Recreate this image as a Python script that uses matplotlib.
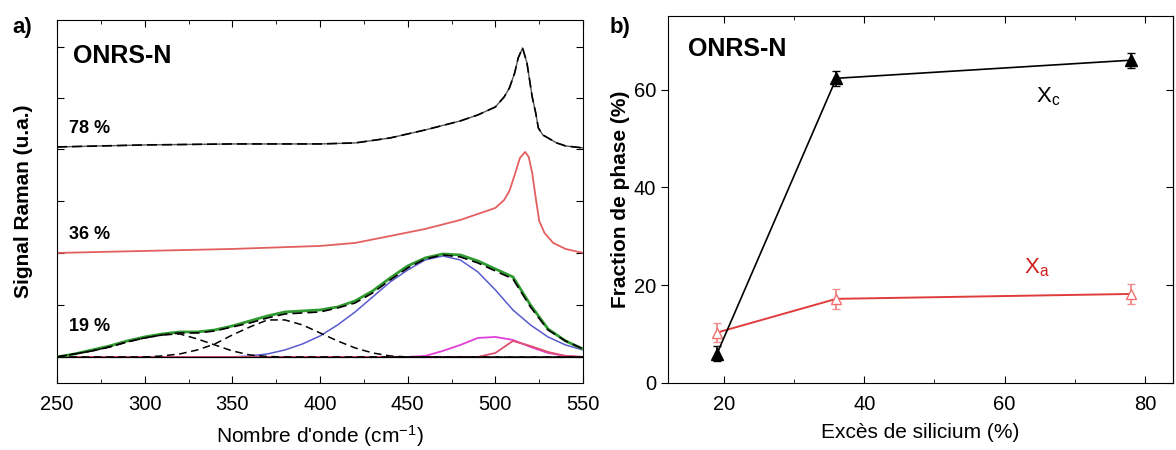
import matplotlib
matplotlib.use("Agg")
import matplotlib.pyplot as plt
import numpy as np
from matplotlib.ticker import MultipleLocator, FixedLocator

plt.rcParams["font.family"] = ["Liberation Sans", "DejaVu Sans"]
plt.rcParams["mathtext.fontset"] = "custom"
plt.rcParams["mathtext.rm"] = "Liberation Sans"
plt.rcParams["mathtext.it"] = "Liberation Sans"

# --- panel a: Raman spectra (arbitrary units) ---
wn_78 = [250, 300, 350, 400, 420, 440, 460, 480, 490, 500, 505, 508, 511, 513,
         515.5, 518, 521, 523, 524.5, 527, 530, 535, 540, 550]
raman_78 = [23.6, 23.8, 23.9, 23.9, 24.0, 24.5, 25.3, 26.2, 26.8, 27.6, 28.6, 29.5,
            31.0, 32.5, 33.5, 32.0, 28.6, 27.0, 25.5, 24.8, 24.5, 24.0, 23.7, 23.5]

wn_36 = [250, 300, 350, 400, 420, 443, 460, 480, 490, 500, 505, 508, 511, 514,
         517, 519, 521, 523, 525, 528, 533, 540, 550]
raman_36 = [13.0, 13.2, 13.4, 13.7, 14.0, 14.8, 15.4, 16.3, 16.9, 17.5, 18.3, 19.2,
            20.8, 22.5, 23.1, 22.6, 21.0, 18.5, 16.2, 15.0, 14.0, 13.4, 13.0]

wn_19 = list(range(250, 551, 10))
baseline_19 = 2.6
exp_19 = [2.6, 2.9, 3.3, 3.7, 4.2, 4.6, 4.9, 5.1, 5.1, 5.3, 5.7, 6.2, 6.7, 7.1, 7.2,
          7.3, 7.6, 8.2, 9.2, 10.5, 11.7, 12.5, 12.9, 12.8, 12.2, 11.4, 10.6, 7.8,
          5.4, 4.2, 3.4]
fit_19 = [2.6, 2.9, 3.2, 3.6, 4.1, 4.5, 4.8, 5.0, 5.0, 5.2, 5.6, 6.0, 6.5, 6.9, 7.0,
          7.1, 7.5, 8.0, 9.0, 10.3, 11.5, 12.4, 12.8, 12.6, 12.0, 11.2, 10.4, 7.6,
          5.3, 4.2, 3.4]
gauss_310 = [2.6, 2.9, 3.2, 3.6, 4.1, 4.5, 4.8, 4.9, 4.4, 3.8, 3.2, 2.8, 2.65, 2.6,
             2.6, 2.6, 2.6, 2.6, 2.6, 2.6, 2.6, 2.6, 2.6, 2.6, 2.6, 2.6, 2.6, 2.6,
             2.6, 2.6, 2.6]
gauss_375 = [2.6, 2.6, 2.6, 2.6, 2.6, 2.6, 2.7, 2.9, 3.3, 3.9, 4.8, 5.6, 6.3, 6.3,
             5.8, 5.0, 4.2, 3.5, 3.0, 2.7, 2.6, 2.6, 2.6, 2.6, 2.6, 2.6, 2.6, 2.6,
             2.6, 2.6, 2.6]
gauss_470 = [2.6, 2.6, 2.6, 2.6, 2.6, 2.6, 2.6, 2.6, 2.6, 2.6, 2.6, 2.7, 2.9, 3.3,
             3.9, 4.7, 5.8, 7.1, 8.6, 10.1, 11.3, 12.3, 12.7, 12.3, 11.1, 9.3, 7.3,
             5.8, 4.6, 3.8, 3.3]
gauss_495 = [2.6, 2.6, 2.6, 2.6, 2.6, 2.6, 2.6, 2.6, 2.6, 2.6, 2.6, 2.6, 2.6, 2.6,
             2.6, 2.6, 2.6, 2.6, 2.6, 2.6, 2.6, 2.7, 3.2, 3.8, 4.5, 4.6, 4.3, 3.6,
             3.0, 2.7, 2.6]
gauss_512 = [2.6, 2.6, 2.6, 2.6, 2.6, 2.6, 2.6, 2.6, 2.6, 2.6, 2.6, 2.6, 2.6, 2.6,
             2.6, 2.6, 2.6, 2.6, 2.6, 2.6, 2.6, 2.6, 2.6, 2.6, 2.6, 3.0, 4.2, 3.7,
             3.1, 2.7, 2.6]

# --- panel b: phase fractions ---
si_excess = [19, 36, 78]
frac_c = [6.0, 62.3, 66.0]
frac_c_err = [1.5, 1.5, 1.5]
frac_a = [10.3, 17.2, 18.2]
frac_a_err = [2.0, 2.0, 2.0]

fig = plt.figure(figsize=(11.76, 4.5), dpi=100)
ax_a = fig.add_axes([0.0485, 0.149, 0.4473, 0.8067])
ax_b = fig.add_axes([0.568, 0.149, 0.4294, 0.815])

# panel a
ax_a.plot(wn_78, raman_78, color="#555555", lw=1.0)
ax_a.plot(wn_78, raman_78, color="black", lw=1.2, ls=(0, (6, 3)))
ax_a.plot(wn_36, raman_36, color="#e46060", lw=1.3)
ax_a.plot(wn_19, gauss_470, color="#5a5ad0", lw=1.1)
ax_a.plot(wn_19, gauss_495, color="#e040d8", lw=1.3)
ax_a.plot(wn_19, gauss_512, color="#e05070", lw=1.3)
ax_a.axhline(baseline_19, color="black", lw=0.9, zorder=2.5)
ax_a.plot(wn_19, exp_19, color="#2f9a2f", lw=2.0, zorder=3)
ax_a.plot(wn_19, fit_19, color="black", lw=1.2, ls=(0, (6, 3)), zorder=3)
ax_a.plot(wn_19, gauss_310, color="black", lw=1.1, ls=(0, (5, 3)), zorder=3)
ax_a.plot(wn_19, gauss_375, color="black", lw=1.1, ls=(0, (5, 3)), zorder=3)

ax_a.set_xlim(250, 550)
ax_a.set_ylim(0, 36.3)
ax_a.xaxis.set_major_locator(MultipleLocator(50))
ax_a.xaxis.set_minor_locator(MultipleLocator(25))
ax_a.yaxis.set_major_locator(FixedLocator([2.6, 7.8, 13.0, 18.2, 23.4, 28.5, 33.6]))
ax_a.set_yticklabels([])
ax_a.tick_params(which="both", direction="in", top=True, right=True, labelsize=14.5)
ax_a.tick_params(axis="x", which="major", length=5, pad=9)
ax_a.tick_params(axis="y", which="major", length=5)
ax_a.tick_params(which="minor", length=3)
ax_a.set_xlabel("Nombre d'onde (cm$^{-1}$)", fontsize=15, labelpad=6)
ax_a.set_ylabel("Signal Raman (u.a.)", fontsize=15, fontweight="bold", labelpad=14)
ax_a.text(0.03, 0.9, "ONRS-N", transform=ax_a.transAxes, fontsize=18,
          fontweight="bold", va="center")
ax_a.text(257, 25.4, "78 %", fontsize=13, fontweight="bold", va="center")
ax_a.text(257, 14.8, "36 %", fontsize=13, fontweight="bold", va="center")
ax_a.text(257, 5.6, "19 %", fontsize=13, fontweight="bold", va="center")
fig.text(0.019, 0.94, "a)", fontsize=16, fontweight="bold", ha="center", va="center")

# panel b
ax_b.errorbar(si_excess, frac_a, yerr=frac_a_err, color="#e03c3c", ecolor="#f09090",
              lw=1.4, marker="^", mfc="white", mec="#f07070", ms=7, capsize=3)
ax_b.errorbar(si_excess, frac_c, yerr=frac_c_err, color="black", lw=1.2,
              marker="^", ms=8, capsize=3)
ax_b.set_xlim(12, 84)
ax_b.set_ylim(0, 75)
ax_b.xaxis.set_major_locator(MultipleLocator(20))
ax_b.xaxis.set_minor_locator(MultipleLocator(10))
ax_b.yaxis.set_major_locator(MultipleLocator(20))
ax_b.tick_params(axis="x", which="both", direction="in", top=True, labelsize=14.5, pad=9)
ax_b.tick_params(axis="y", which="both", direction="out", labelsize=14.5)
ax_b.tick_params(which="major", length=5)
ax_b.tick_params(which="minor", length=3)
ax_right = ax_b.secondary_yaxis("right")
ax_right.yaxis.set_major_locator(MultipleLocator(20))
ax_right.tick_params(direction="in", length=5, labelright=False)
ax_b.set_xlabel("Excès de silicium (%)", fontsize=15, labelpad=6)
ax_b.set_ylabel("Fraction de phase (%)", fontsize=15, fontweight="bold", labelpad=3)
ax_b.text(0.04, 0.91, "ONRS-N", transform=ax_b.transAxes, fontsize=18,
          fontweight="bold", va="center")
ax_b.text(64.5, 58.5, "X$_c$", fontsize=16, color="black", va="center")
ax_b.text(62.8, 23.5, "X$_a$", fontsize=16, color="#d02020", va="center")
fig.text(0.527, 0.938, "b)", fontsize=16, fontweight="bold", ha="center", va="center")

fig.savefig("out.png", dpi=100)
